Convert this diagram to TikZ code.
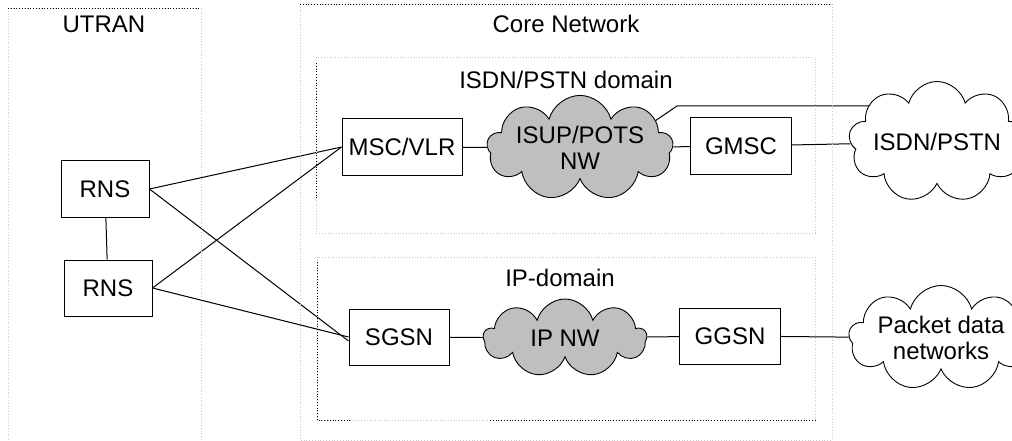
\documentclass[tikz,border=0pt]{standalone}
\usepackage{fontspec}
\setmainfont{Liberation Sans}
\usetikzlibrary{shapes.symbols,backgrounds}
\begin{document}
\begin{tikzpicture}[x=1pt,y=-1pt,
  every node/.style={font=\fontsize{24}{26}\selectfont},
  frame/.style={draw=black!22,dotted,line width=0.8pt},
  frametop/.style={draw=black,dotted,line width=0.8pt},
  box/.style={draw,line width=1pt,inner sep=0pt,minimum height=56pt},
  gcloud/.style={cloud,draw,line width=0.9pt,fill=black!25,cloud puffs=9,cloud ignores aspect,inner sep=0pt,align=center},
  wcloud/.style={cloud,draw,line width=0.9pt,fill=white,cloud puffs=9,cloud ignores aspect,inner sep=0pt,align=center},
  link/.style={line width=1pt}]
\useasboundingbox (0,0) rectangle (1012,441);
% frames
\draw[frame] (8,8) rectangle (201,448);
\draw[frametop] (8,8) -- (201,8);
\draw[frame] (300,4) rectangle (832,440);
\draw[frametop] (300,4) -- (832,4);
\draw[frame] (316,57) rectangle (815,233);
\draw[frametop] (316,63) -- (316,200);
\draw[frame] (317,257) rectangle (815,420);
\draw[frametop] (317,262) -- (317,420) -- (350,420);
\draw[frametop] (490,420) -- (815,420);
\node (utran) at (104,24) {UTRAN};
\node (core) at (566,24) {Core Network};
\node (isdndom) at (566,80) {ISDN/PSTN domain};
\node (ipdom) at (560,278) {IP-domain};
% nodes
\node[box,minimum width=88pt] (rns1) at (105,189) {RNS};
\node[box,minimum width=88pt] (rns2) at (108,288) {RNS};
\node[box,minimum width=120pt] (msc) at (402,147) {MSC/VLR};
\node[gcloud,minimum width=165pt,minimum height=72pt] (isup) at (580,148) {ISUP/POTS\\NW};
\node[box,minimum width=101pt] (gmsc) at (741,146) {GMSC};
\node[wcloud,minimum width=166pt,minimum height=121pt] (pstn) at (937,142) {ISDN/PSTN};
\node[box,minimum width=100pt] (sgsn) at (399,337) {SGSN};
\node[gcloud,minimum width=163pt,minimum height=78pt] (ipnw) at (565,338) {IP NW};
\node[box,minimum width=101pt] (ggsn) at (730,336) {GGSN};
\node[wcloud,minimum width=166pt,minimum height=84pt] (pdn) at (941,338) {Packet data\\networks};
\coordinate (k1) at (677,106);
% connectors
\begin{scope}[on background layer]
\draw[link] (rns1) -- (rns2);
\draw[link] (rns1.east) -- (msc.west);
\draw[link] (rns1.east) -- ([yshift=-4pt]sgsn.west);
\draw[link] (rns2.east) -- (msc.west);
\draw[link] (rns2.east) -- (sgsn.west);
\draw[link] (msc) -- (isup);
\draw[link] (isup) -- (gmsc);
\draw[link] (gmsc) -- (pstn);
\draw[link] (isup.20) -- (k1) -- (k1 -| pstn.center);
\draw[link] (sgsn) -- (ipnw);
\draw[link] (ipnw) -- (ggsn);
\draw[link] (ggsn) -- (pdn);
\end{scope}
\end{tikzpicture}
\end{document}
